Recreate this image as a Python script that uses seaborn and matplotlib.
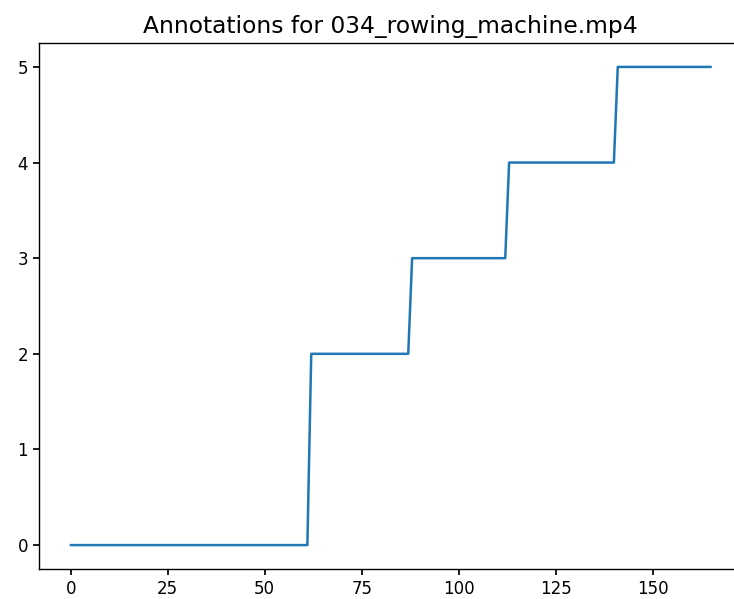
import matplotlib
matplotlib.use("Agg")
import matplotlib.pyplot as plt
import seaborn as sns
import pandas as pd

# Frame indices where the annotated count changes, and the count at each
frames = [0, 61, 62, 87, 88, 112, 113, 140, 141, 165]
counts = [0, 0, 2, 2, 3, 3, 4, 4, 5, 5]
x_ticks = [0, 25, 50, 75, 100, 125, 150]
y_ticks = [0, 1, 2, 3, 4, 5]
title = "Annotations for 034_rowing_machine.mp4"

sns.set_theme(style="ticks", rc={
    "axes.edgecolor": "black",
    "axes.linewidth": 1.0,
    "text.color": "black",
    "axes.labelcolor": "black",
    "xtick.color": "black",
    "ytick.color": "black",
    "xtick.major.size": 4.2,
    "ytick.major.size": 4.2,
    "xtick.labelsize": 12,
    "ytick.labelsize": 12,
    "axes.titlesize": 16.8,
})
plt.rcParams["font.family"] = ["DejaVu Sans"]

df = pd.DataFrame({"frame": frames, "count": counts})

fig = plt.figure(figsize=(7.34, 5.99), dpi=100)
ax = fig.add_axes([0.0527, 0.0501, 0.9594, 0.8781])
sns.lineplot(data=df, x="frame", y="count", ax=ax, sort=False,
             color="#1f77b4", linewidth=1.8)
ax.set_xticks(x_ticks)
ax.set_yticks(y_ticks)
ax.set_xlabel("")
ax.set_ylabel("")
ax.set_title(title, pad=7)
ax.margins(x=0.05, y=0.05)

fig.savefig("out.png", dpi=100)
